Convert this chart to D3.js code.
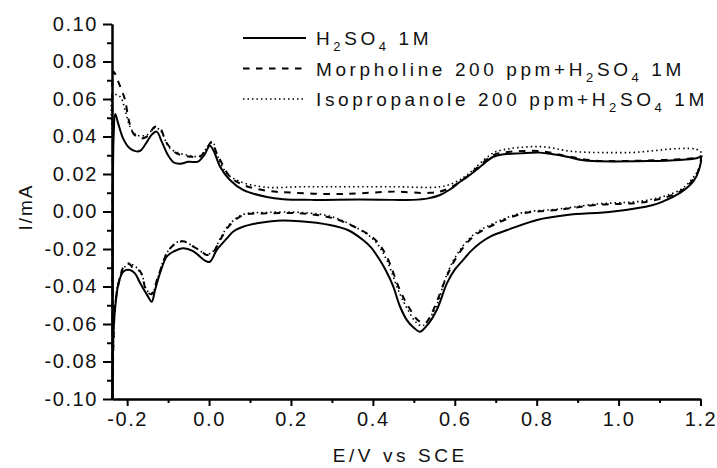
<!DOCTYPE html>
<html>
<head>
<meta charset="utf-8">
<script src="https://cdn.jsdelivr.net/npm/d3@7"></script>
<style>
  body { margin: 0; background: #fff; }
  text { font-family: "Liberation Sans", Arial, sans-serif; fill: #111; }
</style>
</head>
<body>
<div id="chart"></div>
<script>
// cyclic voltammograms, [E (V vs SCE), I (mA)] in scan order
const h2so4 = [
  [-0.236, -0.100], [-0.235, 0.000], [-0.233, 0.040], [-0.229, 0.052], [-0.222, 0.047],
  [-0.210, 0.039], [-0.195, 0.034], [-0.180, 0.0322], [-0.168, 0.0324], [-0.155, 0.036],
  [-0.140, 0.041], [-0.128, 0.0426], [-0.115, 0.037], [-0.100, 0.030], [-0.085, 0.026],
  [-0.070, 0.0255], [-0.050, 0.0265], [-0.027, 0.0266], [-0.012, 0.030], [0.002, 0.0351],
  [0.012, 0.032], [0.027, 0.0239], [0.051, 0.0168], [0.083, 0.0115], [0.141, 0.0077],
  [0.181, 0.0065], [0.250, 0.0062], [0.369, 0.0064], [0.450, 0.0062], [0.498, 0.0062],
  [0.535, 0.0070], [0.564, 0.0088], [0.590, 0.0120], [0.613, 0.0159], [0.640, 0.0200],
  [0.662, 0.0239], [0.694, 0.0292], [0.720, 0.0305], [0.760, 0.0310], [0.808, 0.0314],
  [0.840, 0.0305], [0.874, 0.0292], [0.910, 0.0275], [0.938, 0.0269], [1.070, 0.0269],
  [1.150, 0.0275], [1.190, 0.0284], [1.200, 0.0290],
  [1.196, 0.0220], [1.182, 0.0159], [1.150, 0.0099], [1.110, 0.0055], [1.084, 0.0035],
  [0.987, 0.0000], [0.874, -0.0019], [0.801, -0.0045], [0.728, -0.0099], [0.690, -0.0130],
  [0.662, -0.0168], [0.640, -0.0210], [0.620, -0.0259], [0.600, -0.0310], [0.581, -0.0382],
  [0.556, -0.0525], [0.535, -0.0600], [0.515, -0.0641], [0.500, -0.0620], [0.483, -0.0579],
  [0.465, -0.0500], [0.450, -0.0401], [0.433, -0.0320], [0.417, -0.0259], [0.395, -0.0190],
  [0.376, -0.0152], [0.340, -0.0100], [0.295, -0.0072], [0.222, -0.0052], [0.166, -0.0049],
  [0.125, -0.0060], [0.083, -0.0081], [0.060, -0.0105], [0.043, -0.0145], [0.019, -0.0205],
  [0.002, -0.0268], [-0.010, -0.0262], [-0.022, -0.0241], [-0.040, -0.0210], [-0.063, -0.0196],
  [-0.085, -0.0212], [-0.103, -0.0240], [-0.120, -0.0330], [-0.132, -0.0420], [-0.140, -0.0481],
  [-0.150, -0.0450], [-0.168, -0.0383], [-0.181, -0.0330], [-0.193, -0.0312], [-0.209, -0.0320],
  [-0.221, -0.0383], [-0.229, -0.0508], [-0.233, -0.0630], [-0.235, -0.0800], [-0.236, -0.100]
]

const morpholine = [
  [-0.236, -0.100], [-0.235, 0.030], [-0.233, 0.0746], [-0.225, 0.0710], [-0.217, 0.0666],
  [-0.205, 0.0595], [-0.197, 0.0497], [-0.185, 0.0417], [-0.168, 0.0390], [-0.152, 0.0399],
  [-0.132, 0.0452], [-0.120, 0.0445], [-0.103, 0.0364], [-0.079, 0.0310], [-0.042, 0.0292],
  [-0.022, 0.0292], [-0.005, 0.0340], [0.007, 0.0372], [0.015, 0.0330], [0.027, 0.0275],
  [0.051, 0.0186], [0.084, 0.0141], [0.141, 0.0111], [0.206, 0.0100], [0.303, 0.0093],
  [0.369, 0.0097], [0.450, 0.0106], [0.540, 0.0100], [0.580, 0.0118], [0.630, 0.0186],
  [0.662, 0.0248], [0.694, 0.0301], [0.720, 0.0315], [0.808, 0.0322], [0.874, 0.0295],
  [0.940, 0.0272], [1.070, 0.0272], [1.190, 0.0287], [1.200, 0.0295],
  [1.195, 0.0220], [1.180, 0.0165], [1.150, 0.0106], [1.069, 0.0052], [0.947, 0.0035],
  [0.849, 0.0008], [0.768, -0.0010], [0.703, -0.0063], [0.645, -0.0134], [0.605, -0.0241],
  [0.580, -0.0348], [0.556, -0.0481], [0.540, -0.0560], [0.527, -0.0596], [0.510, -0.0580],
  [0.487, -0.0508], [0.466, -0.0419], [0.434, -0.0241], [0.410, -0.0160], [0.385, -0.0116],
  [0.303, -0.0036], [0.222, -0.0010], [0.141, -0.0010], [0.084, -0.0019], [0.051, -0.0072],
  [0.027, -0.0152], [0.011, -0.0214], [-0.006, -0.0232], [-0.020, -0.0210], [-0.038, -0.0188],
  [-0.060, -0.0160], [-0.071, -0.0161], [-0.090, -0.0185], [-0.103, -0.0223], [-0.125, -0.0350],
  [-0.140, -0.0440], [-0.152, -0.0428], [-0.168, -0.0321], [-0.185, -0.0303], [-0.197, -0.0276],
  [-0.210, -0.0300], [-0.217, -0.0348], [-0.229, -0.0490], [-0.233, -0.0668], [-0.236, -0.100]
]

const isopropanole = [
  [-0.236, -0.100], [-0.235, 0.030], [-0.233, 0.0621], [-0.217, 0.0612], [-0.205, 0.0541],
  [-0.193, 0.0452], [-0.177, 0.0408], [-0.152, 0.0408], [-0.134, 0.0444], [-0.120, 0.0435],
  [-0.095, 0.0337], [-0.054, 0.0301], [-0.022, 0.0296], [-0.005, 0.0340], [0.009, 0.0370],
  [0.020, 0.0300], [0.043, 0.0204], [0.076, 0.0159], [0.141, 0.0129], [0.222, 0.0132],
  [0.303, 0.0132], [0.450, 0.0132], [0.564, 0.0132], [0.600, 0.0155], [0.630, 0.0195],
  [0.686, 0.0301], [0.710, 0.0325], [0.808, 0.0346], [0.889, 0.0320], [1.020, 0.0314],
  [1.200, 0.0320],
  [1.196, 0.0230], [1.180, 0.0175], [1.150, 0.0115], [1.069, 0.0060], [0.947, 0.0040],
  [0.849, 0.0012], [0.768, -0.0005], [0.703, -0.0055], [0.645, -0.0125], [0.605, -0.0230],
  [0.580, -0.0340], [0.556, -0.0500], [0.535, -0.0580], [0.520, -0.0610], [0.505, -0.0590],
  [0.487, -0.0530], [0.466, -0.0440], [0.434, -0.0260], [0.410, -0.0170], [0.385, -0.0120],
  [0.303, -0.0030], [0.222, -0.0005], [0.141, -0.0005], [0.084, -0.0015], [0.051, -0.0065],
  [0.027, -0.0145], [0.011, -0.0210], [-0.006, -0.0228], [-0.038, -0.0185], [-0.071, -0.0158],
  [-0.103, -0.0220], [-0.140, -0.0435], [-0.152, -0.0420], [-0.168, -0.0318], [-0.197, -0.0280],
  [-0.217, -0.0345], [-0.229, -0.0480], [-0.233, -0.0660], [-0.236, -0.100]
]

const xTicks = [-0.2, 0.0, 0.2, 0.4, 0.6, 0.8, 1.0, 1.2]
const xMinorTicks = [-0.1, 0.1, 0.3, 0.5, 0.7, 0.9, 1.1]
const yTicks = [-0.10, -0.08, -0.06, -0.04, -0.02, 0.00, 0.02, 0.04, 0.06, 0.08, 0.10]
const yMinorTicks = [-0.09, -0.07, -0.05, -0.03, -0.01, 0.01, 0.03, 0.05, 0.07, 0.09]

const series = [
  { name: 'h2so4', data: h2so4, dash: null, width: 2 },
  { name: 'morpholine', data: morpholine, dash: '6.5,6.5', width: 2 },
  { name: 'isopropanole', data: isopropanole, dash: '1.5,3', width: 1.6 }
]

const margin = { top: 24, left: 112, right: 16.5, bottom: 69 }
const width = 717 - margin.left - margin.right
const height = 468 - margin.top - margin.bottom

const svg = d3
  .select('#chart')
  .append('svg')
  .attr('width', 717)
  .attr('height', 468)
  .append('g')
  .attr('transform', 'translate(' + margin.left + ',' + margin.top + ')')

const xPositionScale = d3
  .scaleLinear()
  .domain([-0.237, 1.2])
  .range([0, width])

const yPositionScale = d3
  .scaleLinear()
  .domain([-0.1, 0.1])
  .range([height, 0])

const line = d3
  .line()
  .x(d => xPositionScale(d[0]))
  .y(d => yPositionScale(d[1]))
  .curve(d3.curveCatmullRom.alpha(0.5))

svg
  .selectAll('.cv')
  .data(series)
  .enter()
  .append('path')
  .attr('class', d => 'cv ' + d.name)
  .attr('d', d => line(d.data))
  .attr('fill', 'none')
  .attr('stroke', '#000')
  .attr('stroke-width', d => d.width)
  .attr('stroke-dasharray', d => d.dash)
  .attr('stroke-linejoin', 'round')

// axes: major + minor ticks, pointing outwards
const yAxis = d3
  .axisLeft(yPositionScale)
  .tickValues(yTicks)
  .tickSize(9)
  .tickSizeOuter(0)
  .tickPadding(5)
  .tickFormat(d => d.toFixed(2))
svg
  .append('g')
  .attr('class', 'axis y-axis')
  .call(yAxis)

svg
  .append('g')
  .attr('class', 'axis y-minor')
  .call(d3.axisLeft(yPositionScale).tickValues(yMinorTicks).tickSize(5).tickSizeOuter(0).tickFormat(''))

const xAxis = d3
  .axisBottom(xPositionScale)
  .tickValues(xTicks)
  .tickSize(7)
  .tickSizeOuter(0)
  .tickPadding(6)
  .tickFormat(d => d.toFixed(1))
svg
  .append('g')
  .attr('class', 'axis x-axis')
  .attr('transform', 'translate(0,' + height + ')')
  .call(xAxis)

svg
  .append('g')
  .attr('class', 'axis x-minor')
  .attr('transform', 'translate(0,' + height + ')')
  .call(d3.axisBottom(xPositionScale).tickValues(xMinorTicks).tickSize(4).tickSizeOuter(0).tickFormat(''))

svg.selectAll('.axis path, .axis line').attr('stroke', '#000').attr('stroke-width', 2)
svg.selectAll('.axis text')
  .attr('font-size', 20)
  .attr('letter-spacing', '1.6px')
  .attr('fill', '#111')

// axis titles
svg
  .append('text')
  .attr('x', width / 2 - 6)
  .attr('y', height + 63)
  .attr('text-anchor', 'middle')
  .attr('font-size', 19)
  .attr('letter-spacing', '3.6px')
  .text('E/V vs SCE')

svg
  .append('text')
  .attr('transform', 'translate(' + (32 - margin.left) + ',' + (207 - margin.top) + ') rotate(-90)')
  .attr('text-anchor', 'middle')
  .attr('font-size', 19)
  .attr('letter-spacing', '2px')
  .text('I/mA')

// legend
const legendRows = [
  { name: 'h2so4', parts: [['H', 0], ['2', 1], ['SO', 0], ['4', 1], [' 1M', 0]] },
  { name: 'morpholine', parts: [['Morpholine 200 ppm+H', 0], ['2', 1], ['SO', 0], ['4', 1], [' 1M', 0]] },
  { name: 'isopropanole', parts: [['Isopropanole 200 ppm+H', 0], ['2', 1], ['SO', 0], ['4', 1], [' 1M', 0]] }
]

const legend = svg
  .append('g')
  .attr('transform', 'translate(' + (243 - margin.left) + ',' + (45 - margin.top) + ')')

legendRows.forEach((row, i) => {
  const s = series.find(d => d.name === row.name)
  const g = legend.append('g').attr('transform', 'translate(0,' + i * 30.5 + ')')
  g.append('line')
    .attr('x1', 0)
    .attr('x2', 63)
    .attr('y1', -7)
    .attr('y2', -7)
    .attr('stroke', '#000')
    .attr('stroke-width', s.width)
    .attr('stroke-dasharray', s.dash)
  const t = g.append('text')
    .attr('x', 73)
    .attr('y', 0)
    .attr('font-size', 19)
    .attr('letter-spacing', '3.6px')
  row.parts.forEach((p, j) => {
    const prev = row.parts[j - 1]
    let dy = 0
    if (p[1]) dy = 6
    else if (prev && prev[1]) dy = -6
    t.append('tspan')
      .attr('font-size', p[1] ? 13 : 19)
      .attr('dy', dy)
      .text(p[0])
  })
})
</script>
</body>
</html>
